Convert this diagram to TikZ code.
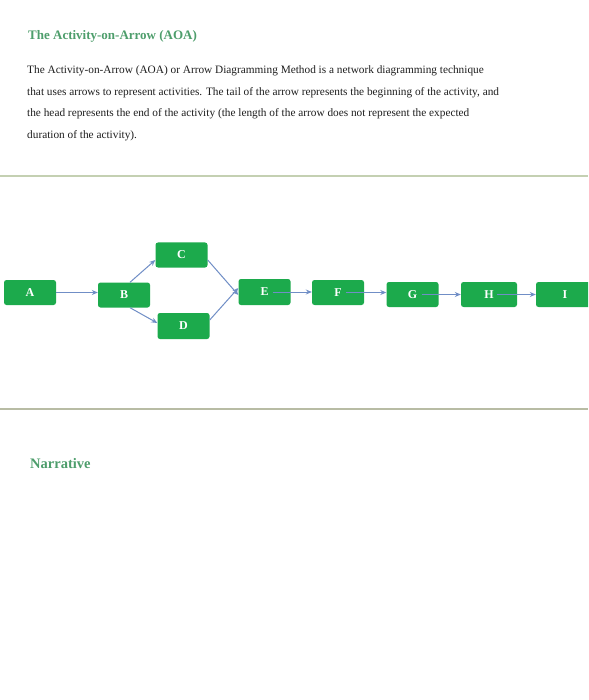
\documentclass[tikz,border=0pt]{standalone}
\usepackage{fontspec}
\setmainfont{Liberation Serif}
\usetikzlibrary{arrows.meta}
\definecolor{boxgreen}{RGB}{28,170,76}
\definecolor{titlegreen}{RGB}{78,158,108}
\definecolor{arrowblue}{RGB}{112,142,198}
\definecolor{rulegreen}{RGB}{196,208,178}
\definecolor{rulegray}{RGB}{184,188,164}
\definecolor{bodytext}{RGB}{30,30,30}
\tikzset{
  actbox/.style={fill=boxgreen, draw=none, rounded corners=2.5pt, minimum width=52pt, minimum height=25pt, inner sep=0pt, text=white, font=\fontsize{12}{14}\selectfont\bfseries},
  conn/.style={draw=arrowblue, line width=1pt, -{Stealth[length=6pt,width=5pt]}},
  bodyline/.style={anchor=base west, inner sep=0pt, text=bodytext, font=\fontsize{11.3}{13}\selectfont},
  heading/.style={anchor=base west, inner sep=0pt, text=titlegreen, font=\fontsize{13}{15}\selectfont\bfseries}
}
\begin{document}
\begin{tikzpicture}[x=1pt,y=-1pt]
\useasboundingbox (0,0) rectangle (588,700);
\clip (0,0) rectangle (588,700);
\fill[white] (0,0) rectangle (588,700);
% text
\node[heading] (title) at (28,40) {The Activity-on-Arrow (AOA)};
\node[bodyline] (l1) at (27,74) {The Activity-on-Arrow (AOA) or Arrow Diagramming Method is a network diagramming technique};
\node[bodyline] (l2) at (27,96) {that uses arrows to represent activities. The tail of the arrow represents the beginning of the activity, and};
\node[bodyline] (l3) at (27,117) {the head represents the end of the activity (the length of the arrow does not represent the expected};
\node[bodyline] (l4) at (27,139) {duration of the activity).};
% rules
\draw[rulegreen, line width=1.3pt] (0,176) -- (588,176);
\draw[rulegray, line width=1.3pt] (0,409) -- (588,409);
\node[heading, font=\fontsize{14.5}{17}\selectfont\bfseries] (narr) at (30,468) {Narrative};
% boxes
\node[actbox] (A) at (30,292.5) {A};
\node[actbox] (B) at (124,295) {B};
\node[actbox] (C) at (181.5,255) {C};
\node[actbox, minimum height=26pt] (D) at (183.5,326) {D};
\node[actbox, minimum height=26pt] (E) at (264.5,292) {E};
\node[actbox] (F) at (338,292.5) {F};
\node[actbox] (G) at (412.5,294.5) {G};
\node[actbox, minimum width=56pt] (H) at (489,294.5) {H};
\node[actbox, minimum width=58pt] (I) at (565,294.5) {I};
% connectors
\draw[conn] (A.east) -- (B.west |- A.east);
\draw[conn] ([xshift=6pt]B.north) -- ([yshift=-5pt]C.west);
\draw[conn] ([xshift=6pt]B.south) -- ([yshift=3pt]D.west);
\draw[conn] ([yshift=-5pt]C.east) -- ([yshift=-3pt]E.west);
\draw[conn] ([yshift=6pt]D.east) -- ([yshift=4pt]E.west);
\draw[conn] ([xshift=8pt]E.center) -- (F.west |- E.center);
\draw[conn] ([xshift=8pt]F.center) -- (G.west |- F.center);
\draw[conn] ([xshift=9pt]G.center) -- (H.west |- G.center);
\draw[conn] ([xshift=8pt]H.center) -- (I.west |- H.center);
\end{tikzpicture}
\end{document}
